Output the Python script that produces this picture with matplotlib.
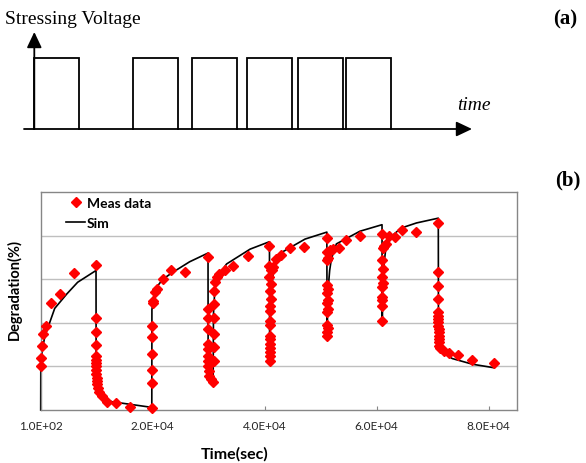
import matplotlib
matplotlib.use('Agg')
import matplotlib.pyplot as plt
from matplotlib.lines import Line2D

# ---------------- Panel (a): stressing voltage pulses (units of one stress period)
pulse_start = [0.0, 2.20, 3.51, 4.72, 5.85, 6.93]
pulse_end = [1.0, 3.20, 4.51, 5.72, 6.85, 7.93]
pulse_level = 1.0

# ---------------- Panel (b): measured degradation, per phase (time s, degradation)
ms1_t = [100, 100, 280, 560, 1050, 1890, 3550, 6050, 9980]
ms1_d = [1.01, 1.20, 1.47, 1.74, 1.93, 2.45, 2.67, 3.15, 3.33]
mr1_t = [10000, 10003, 10006, 10010, 10015, 10020, 10030, 10040, 10055, 10070,
         10090, 10150, 10290, 10520, 11000, 11900, 13500, 16060, 19940]
mr1_d = [2.11, 1.78, 1.50, 1.23, 1.15, 1.07, 1.00, 0.92, 0.82, 0.74,
         0.67, 0.59, 0.51, 0.41, 0.32, 0.19, 0.15, 0.07, 0.04]
ms2_t = [20000, 20005, 20010, 20020, 20040, 20130, 20180, 20550, 20910, 21910, 23410, 25920, 29900]
ms2_d = [0.61, 0.91, 1.28, 1.67, 1.93, 2.45, 2.51, 2.71, 2.77, 3.00, 3.20, 3.17, 3.50]
mr2_t = [30000, 30003, 30006, 30010, 30015, 30020, 30030, 30045, 30070, 30180, 30540, 30950]
mr2_d = [2.31, 2.10, 1.86, 1.51, 1.40, 1.23, 1.13, 1.01, 0.90, 0.78, 0.71, 0.64]
ms3_t = [31000, 31010, 31020, 31040, 31070, 31100, 31250, 31560, 31970, 33040, 34520, 37100, 40900]
ms3_d = [1.13, 1.45, 1.74, 2.12, 2.43, 2.74, 2.94, 3.04, 3.12, 3.20, 3.31, 3.53, 3.76]
mr3_t = [40950, 40955, 40960, 40970, 40980, 40995, 41010, 41030, 41050]
mr3_d = [3.31, 3.04, 2.74, 2.39, 2.05, 1.70, 1.51, 1.32, 1.13]
ms4_t = [41080, 41090, 41100, 41110, 41130, 41160, 41200, 41250, 41380, 41670, 42150, 42990, 44660, 47030, 51150]
ms4_d = [1.24, 1.43, 1.63, 1.95, 2.28, 2.54, 2.89, 3.22, 3.20, 3.27, 3.46, 3.56, 3.72, 3.73, 3.94]
mr4_t = [51200, 51205, 51210, 51220, 51230, 51245, 51260, 51280, 51300]
mr4_d = [3.62, 3.43, 2.87, 2.68, 2.45, 2.24, 1.95, 1.79, 1.70]
ms5_t = [51320, 51330, 51345, 51360, 51400, 51500, 51800, 52290, 53290, 54670, 57040, 61000]
ms5_d = [1.87, 2.31, 2.52, 2.77, 3.48, 3.62, 3.68, 3.69, 3.71, 3.91, 4.00, 4.04]
mr5_t = [61050, 61060, 61070, 61085, 61100]
mr5_d = [3.43, 3.04, 2.81, 2.53, 2.03]
ms6_t = [61120, 61130, 61145, 61160, 61200, 61400, 61700, 62230, 63300, 64620, 67120, 71050]
ms6_d = [2.38, 2.60, 2.91, 3.23, 3.71, 3.77, 3.81, 4.00, 3.96, 4.13, 4.08, 4.28]
mr6_t = [71100, 71103, 71106, 71110, 71115, 71120, 71125, 71130, 71140, 71150,
         71160, 71175, 71190, 71210, 71470, 72060, 73080, 74630, 77130, 80990]
mr6_d = [3.17, 2.85, 2.54, 2.24, 2.16, 2.09, 2.01, 1.93, 1.86, 1.78,
         1.70, 1.62, 1.55, 1.47, 1.42, 1.36, 1.30, 1.26, 1.15, 1.07]

# simulation, per phase
ss1_t = [100, 120, 390, 870, 2600, 4750, 6700, 9980]
ss1_d = [0.0, 1.00, 1.40, 1.70, 2.33, 2.66, 2.93, 3.20]
sr1_t = [10000, 10100, 10400, 11300, 12800, 19940]
sr1_d = [0.60, 0.50, 0.38, 0.27, 0.19, 0.06]
ss2_t = [19960, 20300, 20700, 21900, 23700, 26700, 29980]
ss2_d = [2.30, 2.62, 2.80, 3.00, 3.16, 3.40, 3.60]
sr2_t = [30000, 30900]
sr2_d = [0.75, 0.66]
ss3_t = [30950, 31200, 31600, 33300, 37500, 40950]
ss3_d = [2.20, 2.77, 3.05, 3.35, 3.69, 3.86]
sr3_t = [40980, 41080]
sr3_d = [1.20, 1.13]
ss4_t = [41100, 41500, 42000, 43200, 47300, 51200]
ss4_d = [2.40, 3.00, 3.50, 3.62, 3.92, 4.08]
sr4_t = [51230, 51300]
sr4_d = [1.75, 1.70]
ss5_t = [51320, 51700, 52000, 52900, 57100, 61050]
ss5_d = [2.60, 3.20, 3.46, 3.81, 4.10, 4.25]
sr5_t = [61080, 61120]
sr5_d = [2.05, 2.03]
ss6_t = [61150, 61500, 61800, 62900, 64400, 67200, 71100]
ss6_d = [3.00, 3.46, 3.77, 4.00, 4.17, 4.29, 4.40]
sr6_t = [71130, 71400, 71800, 73600, 77200, 81000]
sr6_d = [1.65, 1.45, 1.32, 1.18, 1.05, 0.97]

x_ticks = [100, 20100, 40100, 60100, 80100]
x_tick_labels = ['1.0E+02', '2.0E+04', '4.0E+04', '6.0E+04', '8.0E+04']
y_grid = [1, 2, 3, 4]

meas_t = ms1_t + mr1_t + ms2_t + mr2_t + ms3_t + mr3_t + ms4_t + mr4_t + ms5_t + mr5_t + ms6_t + mr6_t
meas_d = ms1_d + mr1_d + ms2_d + mr2_d + ms3_d + mr3_d + ms4_d + mr4_d + ms5_d + mr5_d + ms6_d + mr6_d
sim_t = ss1_t + sr1_t + ss2_t + sr2_t + ss3_t + sr3_t + ss4_t + sr4_t + ss5_t + sr5_t + ss6_t + sr6_t
sim_d = ss1_d + sr1_d + ss2_d + sr2_d + ss3_d + sr3_d + ss4_d + sr4_d + ss5_d + sr5_d + ss6_d + sr6_d

W, H = 586, 464
fig = plt.figure(figsize=(W / 100, H / 100), dpi=100)

# ---------------- Panel (a)
ax_a = fig.add_axes([0, (H - 150) / H, 1, 150 / H])
ax_a.set_xlim(-34.3 / 45, (W - 34.3) / 45)
ax_a.set_ylim(-20 / 71, 130 / 71)
ax_a.axis('off')
for s, e in zip(pulse_start, pulse_end):
    ax_a.plot([s, s, e, e], [0, pulse_level, pulse_level, 0], color='black', lw=1.3,
              solid_joinstyle='miter')
arrow_style = '-|>,head_length=0.95,head_width=0.45'
ax_a.annotate('', xy=((472 - 34.3) / 45, 0), xytext=((24 - 34.3) / 45, 0),
              arrowprops=dict(arrowstyle=arrow_style, lw=1.3, color='black',
                              mutation_scale=10, shrinkA=0, shrinkB=0))
ax_a.annotate('', xy=(0, (130 - 33) / 71), xytext=(0, 0),
              arrowprops=dict(arrowstyle=arrow_style, lw=1.3, color='black',
                              mutation_scale=10, shrinkA=0, shrinkB=0))

serif = 'Liberation Serif'
fig.text(5 / W, 1 - 19 / H, 'Stressing Voltage', family=serif, fontsize=14,
         ha='left', va='center')
fig.text(457 / W, 1 - 106 / H, 'time', family=serif, fontsize=14, style='italic',
         ha='left', va='center')
fig.text(553 / W, 1 - 19 / H, '(a)', family=serif, fontsize=15, weight='bold',
         ha='left', va='center')
fig.text(555 / W, 1 - 180.5 / H, '(b)', family=serif, fontsize=15, weight='bold',
         ha='left', va='center')

# ---------------- Panel (b)
sans = 'Lato'
left, right, top, bottom = 40.7, 516.7, 193, 411
ax = fig.add_axes([left / W, (H - bottom) / H, (right - left) / W, (bottom - top) / H])
ax.set_xlim(100, 85100)
ax.set_ylim(0, 5)
for g in y_grid:
    ax.axhline(g, color='#BFBFBF', lw=1.0, zorder=0)
for sp in ax.spines.values():
    sp.set_color('#868686')
    sp.set_linewidth(1.0)

ax.plot(sim_t, sim_d, color='black', lw=1.2, zorder=2, clip_on=False)
ax.plot(meas_t, meas_d, ls='none', marker='D', ms=5.0, color='#FF0000',
        mec='#FF0000', zorder=3, clip_on=False)

ax.set_xticks(x_ticks)
ax.set_xticklabels(x_tick_labels, family=sans, fontsize=8.5, color='#262626')
ax.tick_params(axis='x', direction='in', length=3, width=0.8, color='#868686', pad=7)
ax.set_yticks([])

ax.set_xlabel('Time(sec)', family=sans, fontsize=11.5, weight='bold')
ax.xaxis.set_label_coords((235 - left) / (right - left), (bottom - 454) / (bottom - top))
ax.xaxis.label.set_va('center')
ax.set_ylabel('Degradation(%)', family=sans, fontsize=10.5, weight='bold')
ax.yaxis.set_label_coords((14 - left) / (right - left), (bottom - 290) / (bottom - top))
ax.yaxis.label.set_va('center')

handles = [Line2D([], [], ls='none', marker='D', ms=5.0, color='#FF0000'),
           Line2D([], [], color='black', lw=1.2)]
ax.legend(handles, ['Meas data', 'Sim'], loc='upper left',
          bbox_to_anchor=((66 - left) / (right - left), (bottom - 198) / (bottom - top)),
          frameon=False, borderpad=0, borderaxespad=0, handlelength=1.37,
          handletextpad=0.15, labelspacing=0.55, numpoints=1,
          prop=dict(family=sans, size=10, weight='bold'))

fig.savefig('out.png', dpi=100)
